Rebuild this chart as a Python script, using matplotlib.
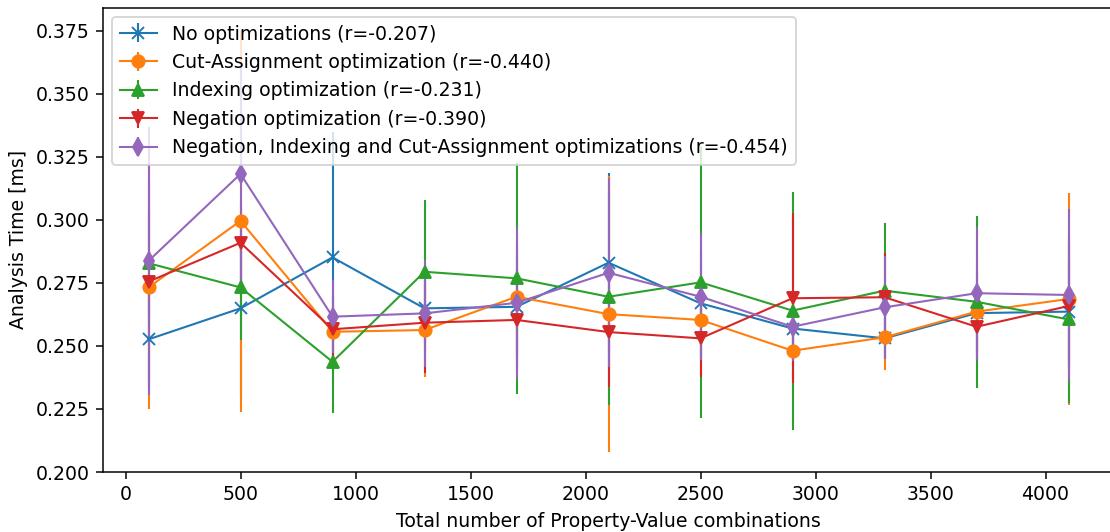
import matplotlib
matplotlib.use("Agg")
import matplotlib.pyplot as plt

# Property-value combination counts (x positions of the measurements)
combinations = [100, 500, 900, 1300, 1700, 2100, 2500, 2900, 3300, 3700, 4100]

# Mean analysis time [ms] and standard deviation per configuration
no_opt_mean = [0.2526, 0.2649, 0.2851, 0.2649, 0.2655, 0.2830, 0.2669, 0.2569, 0.2530, 0.2630, 0.2636]
no_opt_std = [0.020, 0.035, 0.0498, 0.015, 0.020, 0.0354, 0.020, 0.012, 0.008, 0.015, 0.020]

cut_mean = [0.2732, 0.2996, 0.2556, 0.2563, 0.2695, 0.2626, 0.2603, 0.2481, 0.2534, 0.2636, 0.2686]
cut_std = [0.0484, 0.0757, 0.015, 0.0185, 0.020, 0.0546, 0.020, 0.018, 0.013, 0.020, 0.042]

index_mean = [0.2828, 0.2732, 0.2437, 0.2794, 0.2768, 0.2695, 0.2752, 0.2640, 0.2719, 0.2675, 0.2605]
index_std = [0.020, 0.0209, 0.0205, 0.0284, 0.0458, 0.0429, 0.0539, 0.0472, 0.0267, 0.034, 0.0333]

neg_mean = [0.2755, 0.2909, 0.2566, 0.2592, 0.2603, 0.2555, 0.2530, 0.2689, 0.2693, 0.2576, 0.2658]
neg_std = [0.040, 0.016, 0.013, 0.0201, 0.020, 0.0217, 0.0152, 0.0337, 0.0174, 0.012, 0.025]

all_mean = [0.2837, 0.3182, 0.2616, 0.2629, 0.2671, 0.2790, 0.2695, 0.2576, 0.2653, 0.2709, 0.2702]
all_std = [0.0533, 0.044, 0.0145, 0.0212, 0.0301, 0.0374, 0.0251, 0.0135, 0.0203, 0.0264, 0.034]

labels = [
    "No optimizations (r=-0.207)",
    "Cut-Assignment optimization (r=-0.440)",
    "Indexing optimization (r=-0.231)",
    "Negation optimization (r=-0.390)",
    "Negation, Indexing and Cut-Assignment optimizations (r=-0.454)",
]
markers = ["x", "o", "^", "v", "d"]
means = [no_opt_mean, cut_mean, index_mean, neg_mean, all_mean]
stds = [no_opt_std, cut_std, index_std, neg_std, all_std]

DPI = 136
fig = plt.figure(figsize=(1110 / DPI, 532 / DPI), dpi=DPI)
ax = fig.add_axes([102.5 / 1110, 60 / 532, 1012 / 1110, 464.5 / 532])

for m, s, mk, lab in zip(means, stds, markers, labels):
    ax.errorbar(combinations, m, yerr=s, marker=mk, label=lab,
                linewidth=1.1, markersize=6.5)

ax.set_xlim(-100, 4300)
ax.set_ylim(0.2, 0.3842)
ax.set_xticks(range(0, 4001, 500))
ax.set_xlabel("Total number of Property-Value combinations")
ax.set_ylabel("Analysis Time [ms]")
ax.legend(loc="upper left")

fig.savefig("out.png", dpi=DPI)
